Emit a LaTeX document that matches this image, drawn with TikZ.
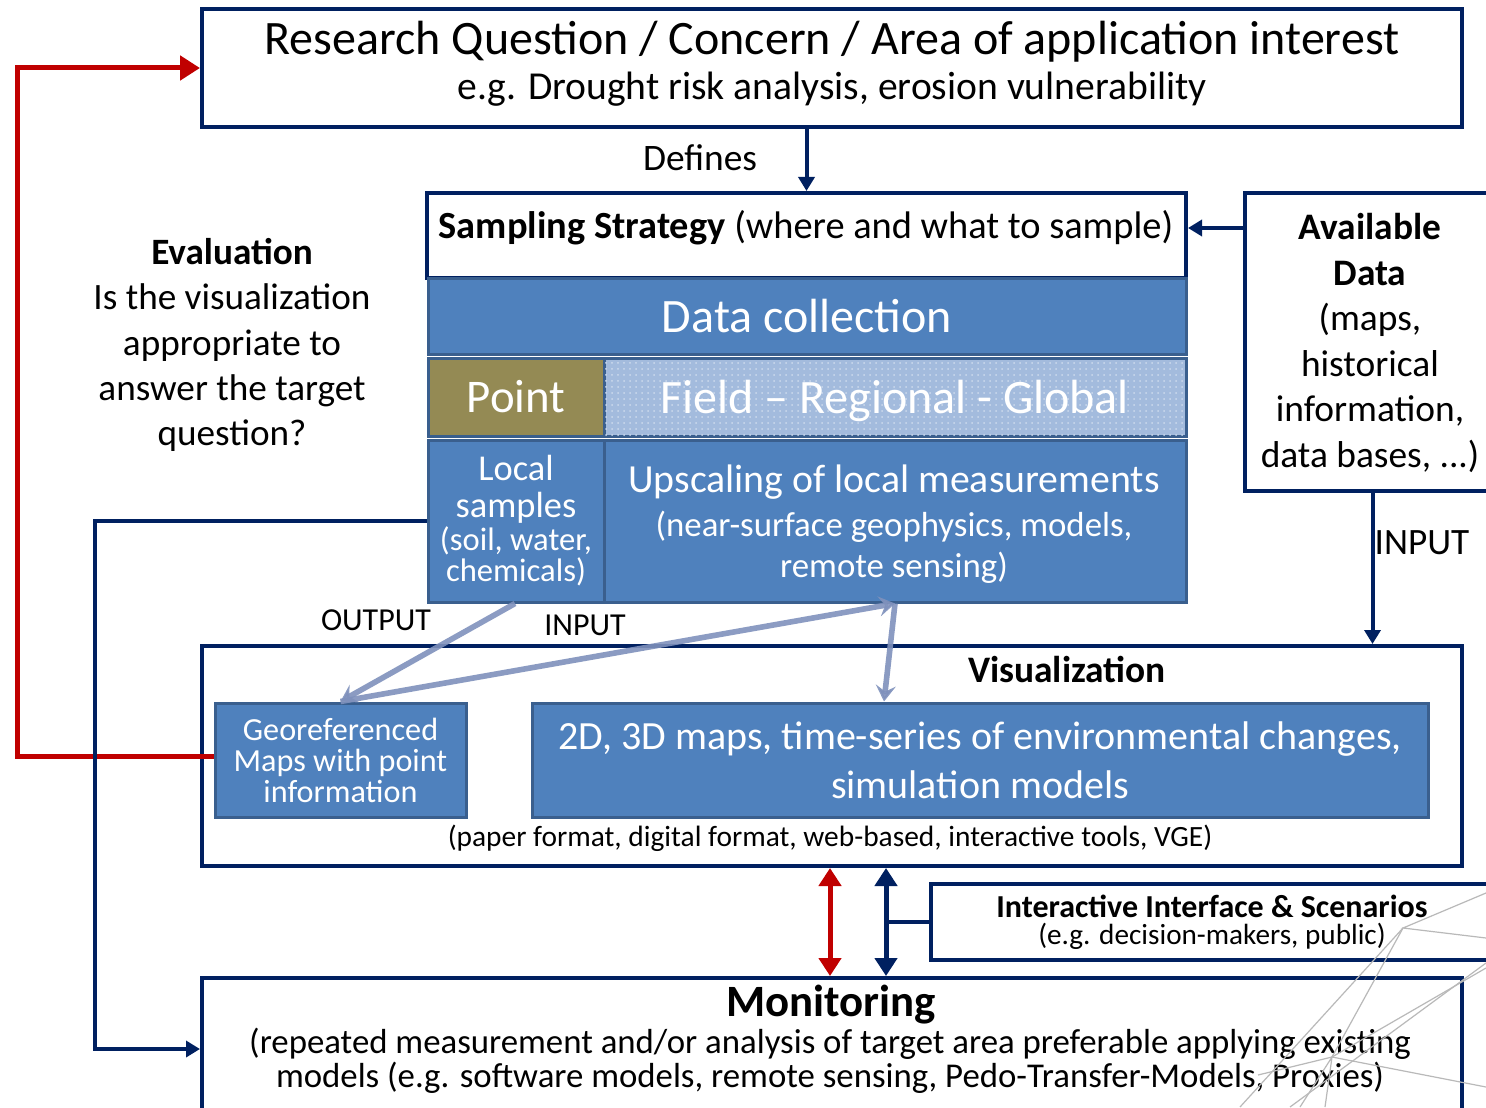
\documentclass[tikz,border=0pt]{standalone}
\usepackage{fontspec}
\setmainfont{Carlito}
\usetikzlibrary{arrows.meta,patterns}

\definecolor{navy}{HTML}{002060}
\definecolor{deepred}{HTML}{C00000}
\definecolor{cellblue}{HTML}{4F81BD}
\definecolor{celledge}{HTML}{3A5F8E}
\definecolor{olive}{HTML}{948A54}
\definecolor{fieldblue}{HTML}{A3BBDD}
\definecolor{flowblue}{HTML}{7F91BC}

\newcommand{\fsz}[2]{\fontsize{#1}{#2}\selectfont}

\begin{document}
\begin{tikzpicture}
      [x=0.5pt, y=-0.5pt,
       navybox/.style={draw=navy,line width=2pt,fill=white,inner sep=0pt},
       cell/.style={draw=celledge,line width=1.5pt,fill=cellblue,text=white,inner sep=0pt},
       navyline/.style={draw=navy,line width=2pt},
       navyarrow/.style={navyline,-{Triangle[length=7pt,width=8pt]}},
       twoway/.style={line width=2.5pt,{Triangle[length=9pt,width=11pt]}-{Triangle[length=9pt,width=11pt]}},
       redarrow/.style={draw=deepred,line width=2.5pt,-{Triangle[length=10pt,width=12pt]}},
       flow/.style={draw=flowblue,line width=2.8pt,opacity=.9,-{Stealth[length=8pt,width=10pt,inset=3pt]}},
       web/.style={gray!55,line width=0.6pt}]
      \useasboundingbox (0,0) rectangle (1486,1107);
      % question
      \node at (832,68) (question) [navybox,minimum width=630pt,minimum height=59pt] {};
      \node at (832,42) (questiontitle) [font=\fsz{24}{28}] {Research Question / Concern / Area of application interest};
      \node at (832,89) (questionnote) [font=\fsz{19.8}{23}] {e.g. Drought risk analysis, erosion vulnerability};
      % sampling block
      \node at (806.5,235.5) (sampling) [navybox,minimum width=379.5pt,minimum height=42.5pt] {};
      \node at (806,228) (samplingtext) [font=\fsz{19.2}{22}] {\textbf{Sampling Strategy} (where and what to sample)};
      \node at (807,316) (collection) [cell,minimum width=379pt,minimum height=38pt,font=\fsz{24}{28}] {Data collection};
      \node at (516,397) (point) [cell,fill=olive,minimum width=88pt,minimum height=39pt,font=\fsz{23.4}{27}] {Point};
      \node at (895,397) (field) [cell,fill=fieldblue,postaction={pattern=dots,pattern color=white!45!fieldblue},
                                  minimum width=291pt,minimum height=39pt,text depth=0pt,font=\fsz{24}{28}] {Field -- Regional - Global};
      \node at (516,521) (local) [cell,minimum width=88pt,minimum height=81pt] {};
      \node at (516,489) (localname) [text=white,align=center,font=\fsz{18.2}{18.5}] {Local\\samples};
      \node at (516,556) (localnote) [text=white,align=center,font=\fsz{16.3}{15.5}] {(soil, water,\\chemicals)};
      \node at (895,521) (upscaling) [cell,minimum width=291pt,minimum height=81pt] {};
      \node at (894,482) (upscalingname) [text=white,font=\fsz{19.9}{23}] {Upscaling of local measurements};
      \node at (894,547) (upscalingnote) [text=white,align=center,font=\fsz{17.4}{20.5}] {(near-surface geophysics, models,\\remote sensing)};
      % available data
      \node at (1372.5,342) (available) [navybox,minimum width=127.5pt,minimum height=149pt] {};
      \node at (1370,343) (availabletext) [align=center,font=\fsz{18.7}{22.8}] {\textbf{Available}\\\textbf{Data}\\(maps,\\historical\\information,\\data bases, ...)};
      % evaluation
      \node at (232,345) (evaluation) [align=center,font=\fsz{18.6}{22.6}] {\textbf{Evaluation}\\Is the visualization\\appropriate to\\answer the target\\question?};
      % visualization
      \node at (832,756) (vis) [navybox,minimum width=630pt,minimum height=110pt] {};
      \node at (1067,669) (vistitle) [font=\fsz{18.7}{22}\bfseries] {Visualization};
      \node at (340.5,760) (georef) [cell,minimum width=125.5pt,minimum height=57pt,align=center,font=\fsz{16.1}{15.5}] {Georeferenced\\Maps with point\\information};
      \node at (980,760) (maps) [cell,minimum width=448pt,minimum height=57pt,align=center,font=\fsz{20}{24.5}] {2D, 3D maps, time-series of environmental changes,\\simulation models};
      \node at (830,838) (visformats) [font=\fsz{14.7}{17}] {(paper format, digital format, web-based, interactive tools, VGE)};
      % interactive and monitoring
      \node at (1215.5,922) (interactive) [navybox,minimum width=284.5pt,minimum height=38pt] {};
      \node at (1212,906) (interactivename) [inner sep=0pt,font=\fsz{16}{19}\bfseries] {Interactive Interface \& Scenarios};
      \node at (1212,936) (interactivenote) [inner sep=0pt,font=\fsz{14.6}{17}] {(e.g. decision-makers, public)};
      \node at (832,1049) (monitoring) [navybox,minimum width=630pt,minimum height=71pt] {};
      \node at (831,1005) (monitoringname) [font=\fsz{22.4}{26}\bfseries] {Monitoring};
      \node at (830,1061) (monitoringnote) [align=center,font=\fsz{17.4}{17}] {(repeated measurement and/or analysis of target area preferable applying existing\\models (e.g. software models, remote sensing, Pedo-Transfer-Models, Proxies)};
      % labels on the connectors
      \node at (700,158) (defines) [font=\fsz{18.7}{22}] {Defines};
      \node at (376,620) (output) [font=\fsz{16}{19}] {OUTPUT};
      \node at (585,625) (inputmid) [font=\fsz{16}{19}] {INPUT};
      \node at (1422,543) (inputright) [font=\fsz{18.6}{22}] {INPUT};
      % connectors
      \coordinate (redleft) at (17,0);
      \coordinate (evalleft) at (95,0);
      \coordinate (linktop) at ([xshift=27pt]vis.south);
      \coordinate (linkbottom) at ([xshift=27pt]monitoring.north);
      \draw [navyarrow] (question.south -| sampling.north) -- (sampling.north);
      \draw [navyarrow] (available.west |- samplingtext) -- (sampling.east |- samplingtext);
      \draw [navyarrow] (available.south) -- (available.south |- vis.north);
      \draw [redarrow] ([yshift=2pt]georef.west) -- ([yshift=2pt]georef.west -| redleft) |- (question.west);
      \draw [navyarrow] (local.west) -- (local.west -| evalleft) |- (monitoring.west);
      \draw [twoway,deepred] ([xshift=-1pt]vis.south) -- ([xshift=-1pt]monitoring.north);
      \draw [twoway,navy] (linktop) -- (linkbottom);
      \draw [navyline] (interactive.west) -- (interactive.west -| linktop);
      \draw [flow] ([xshift=-0.5pt]local.south) -- (georef.north);
      \draw [flow] (georef.north) -- (upscaling.south);
      \draw [flow] (upscaling.south) -- ([xshift=-48pt]maps.north);
      % faint wire net over the lower right corner
      \draw [web] (1486,893) -- (1403,928) -- (1486,938);
      \draw [web] (1403,928) -- (1240,1107);
      \draw [web] (1403,928) -- (1332,1057);
      \draw [web] (1486,963) -- (1290,1107);
      \draw [web] (1258,1075) -- (1332,1057) -- (1486,1087);
      \draw [web] (1300,1107) -- (1332,1057) -- (1325,1107);
      \draw [web] (1332,1057) -- (1486,968);
    \end{tikzpicture}
\end{document}
